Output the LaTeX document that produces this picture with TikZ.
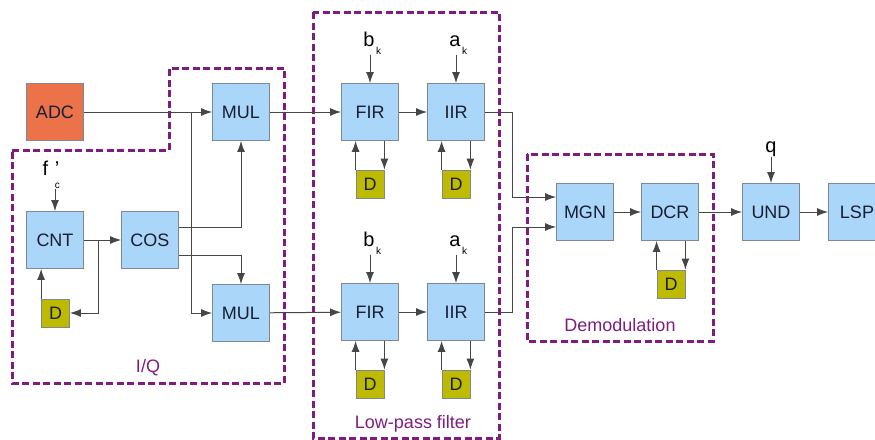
\documentclass[tikz,border=0pt]{standalone}
\usepackage{fontspec}
\setmainfont{Liberation Sans}
\usetikzlibrary{arrows.meta, positioning}

\definecolor{blockblue}{RGB}{170,214,250}
\definecolor{blockline}{RGB}{125,135,150}
\definecolor{adcorange}{RGB}{236,114,74}
\definecolor{delayolive}{RGB}{190,186,0}
\definecolor{groupviolet}{RGB}{128,28,128}
\definecolor{wiregray}{RGB}{70,70,70}
\definecolor{textdark}{RGB}{25,30,50}

\begin{document}
\begin{tikzpicture}[x=0.5pt, y=-0.5pt, font=\fontsize{9}{11}\selectfont,
    block/.style={draw=blockline, fill=blockblue, text=textdark, minimum width=28.5pt, minimum height=28.5pt, inner sep=0pt},
    delay/.style={draw=blockline, fill=delayolive, text=textdark, minimum width=14pt, minimum height=14pt, inner sep=0pt},
    group/.style={draw=groupviolet, line width=1.5pt, dash pattern=on 3.5pt off 1.75pt},
    wire/.style={draw=wiregray, line width=0.5pt, -{Latex[length=5.5pt,width=4pt]}},
    tag/.style={inner sep=0pt, anchor=base, font=\fontsize{10}{12}\selectfont},
    grouplabel/.style={text=groupviolet}]

    \useasboundingbox (0,0) rectangle (875,440);

    % groups
    \draw[group] (12,150) -- (169,150) -- (169,68) -- (284,68) -- (284,383) -- (12,383) -- cycle;
    \draw[group] (313,12) rectangle (499,438);
    \draw[group] (527,154) rectangle (713,341);
    \node[grouplabel] (iqlabel) at (148,368) {I/Q};
    \node[grouplabel] (lplabel) at (413,424) {Low-pass filter};
    \node[grouplabel] (demlabel) at (620,325) {Demodulation};

    % I/Q
    \node[block, fill=adcorange] (adc) at (55,112) {ADC};
    \node[block] (mula) at (241,112) {MUL};
    \node[block] (mulb) at (241,313) {MUL};
    \node[block] (cnt) at (55,240) {CNT};
    \node[block] (cos) at (150,240) {COS};
    \node[delay] (dcnt) at (55.5,313) {D};
    \node[tag] (fc) at (51,175) {f\,\,\rlap{\raisebox{-1.3ex}{\tiny c}}'};

    \draw[wire] (adc) -- (mula);
    \coordinate (split) at (191,112);
    \draw[wire] (split) |- (mulb);
    \draw[wire] (fc.south -| cnt) -- (cnt);
    \draw[wire] (cnt) -- (cos);
    \coordinate (tap) at (98,240);
    \draw[wire] (tap) |- (dcnt);
    \draw[wire] (dcnt.north west) -- (dcnt.north west |- cnt.south);
    \draw[wire] ([yshift=6.5pt]cos.east) -| (mula);
    \draw[wire] ([yshift=-7.5pt]cos.east) -| (mulb);

    % low-pass filters
    \node[block] (fira) at (370,112) {FIR};
    \node[block] (iira) at (456,112) {IIR};
    \node[block] (firb) at (370,312) {FIR};
    \node[block] (iirb) at (456,312) {IIR};
    \node[delay] (dfira) at (370,184) {D};
    \node[delay] (diira) at (456,184) {D};
    \node[delay] (dfirb) at (370,384) {D};
    \node[delay] (diirb) at (456,384) {D};
    \node[tag] (bka) at (369,46) {b\rlap{\raisebox{-0.8ex}{\tiny\,k}}};
    \node[tag] (aka) at (455,46) {a\rlap{\raisebox{-0.8ex}{\tiny\,k}}};
    \node[tag] (bkb) at (369,246) {b\rlap{\raisebox{-0.8ex}{\tiny\,k}}};
    \node[tag] (akb) at (455,246) {a\rlap{\raisebox{-0.8ex}{\tiny\,k}}};

    \draw[wire] (mula) -- (fira);
    \draw[wire] (fira) -- (iira);
    \draw[wire] (mulb) -- (firb);
    \draw[wire] (firb) -- (iirb);
    \draw[wire] (bka.south -| fira) -- (fira);
    \draw[wire] (aka.south -| iira) -- (iira);
    \draw[wire] (bkb.south -| firb) -- (firb);
    \draw[wire] (akb.south -| iirb) -- (iirb);

    % demodulation and output
    \node[block] (mgn) at (585,212) {MGN};
    \node[block] (dcr) at (670,212) {DCR};
    \node[delay] (ddcr) at (671,284) {D};
    \node[block] (und) at (771,212) {UND};
    \node[block] (lsp) at (857,212) {LSP};
    \node[tag] (qin) at (771,152) {q};

    \draw[wire] (iira.east) -- ++(28,0) |- ([yshift=7.5pt]mgn.west);
    \draw[wire] (iirb.east) -- ++(28,0) |- ([yshift=-7.5pt]mgn.west);
    \draw[wire] (mgn) -- (dcr);
    \draw[wire] (dcr) -- (und);
    \draw[wire] (und) -- (lsp);
    \draw[wire] (qin.south -| und) -- (und);

    % delay loops
    \foreach \b/\d in {fira/dfira, iira/diira, firb/dfirb, iirb/diirb, dcr/ddcr} {
        \draw[wire] (\d.north west) -- (\d.north west |- \b.south);
        \draw[wire] (\b.south -| \d.north east) -- (\d.north east);
    }
\end{tikzpicture}
\end{document}
